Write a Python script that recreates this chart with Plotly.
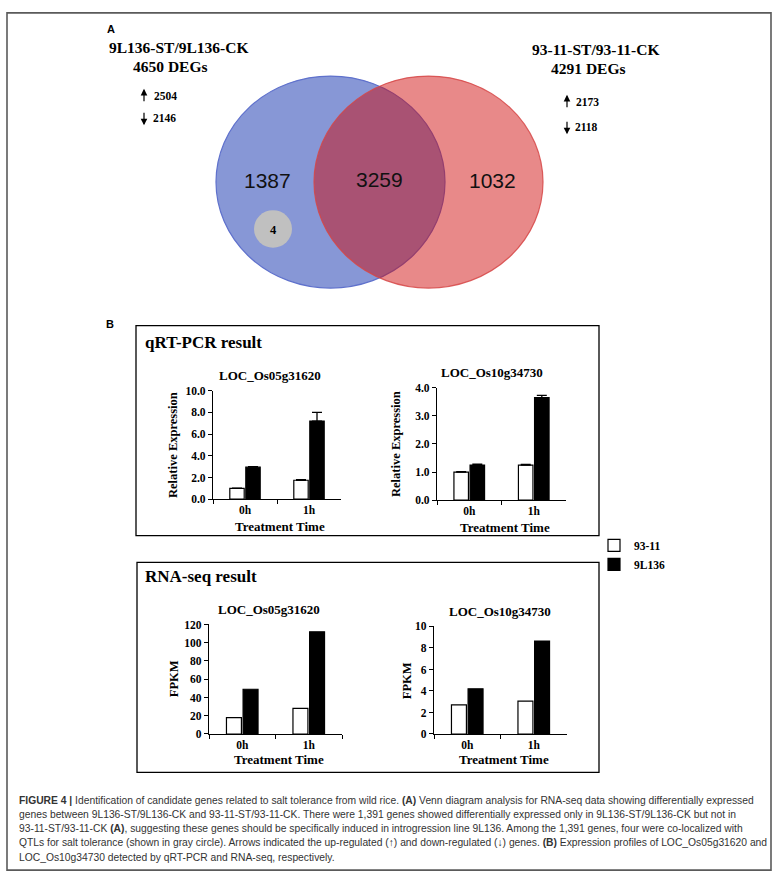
import plotly.graph_objects as go

W, H = 779, 884

# ---------------- data ----------------
venn_sets = ["9L136-ST/9L136-CK", "93-11-ST/93-11-CK"]
venn_totals = [4650, 4291]
venn_up = [2504, 2173]
venn_down = [2146, 2118]
venn_only_left = 1387
venn_both = 3259
venn_only_right = 1032
venn_qtl = 4

times = ["0h", "1h"]
lines = ["93-11", "9L136"]
genes = ["LOC_Os05g31620", "LOC_Os10g34730"]

qrt_os05_9311 = [1.0, 1.75]
qrt_os05_9l136 = [2.95, 7.2]
qrt_os05_err_9311 = [0.03, 0.05]
qrt_os05_err_9l136 = [0.05, 0.8]
qrt_os10_9311 = [1.0, 1.25]
qrt_os10_9l136 = [1.25, 3.65]
qrt_os10_err_9311 = [0.02, 0.02]
qrt_os10_err_9l136 = [0.03, 0.08]

rna_os05_9311 = [18, 28]
rna_os05_9l136 = [49, 112]
rna_os10_9311 = [2.7, 3.05]
rna_os10_9l136 = [4.2, 8.65]

caption_lines = [
    "<b>FIGURE 4 |</b> Identification of candidate genes related to salt tolerance from wild rice. <b>(A)</b> Venn diagram analysis for RNA-seq data showing differentially expressed",
    "genes between 9L136-ST/9L136-CK and 93-11-ST/93-11-CK. There were 1,391 genes showed differentially expressed only in 9L136-ST/9L136-CK but not in",
    "93-11-ST/93-11-CK <b>(A)</b>, suggesting these genes should be specifically induced in introgression line 9L136. Among the 1,391 genes, four were co-localized with",
    "QTLs for salt tolerance (shown in gray circle). Arrows indicated the up-regulated (↑) and down-regulated (↓) genes. <b>(B)</b> Expression profiles of LOC_Os05g31620 and",
    "LOC_Os10g34730 detected by qRT-PCR and RNA-seq, respectively.",
]

# ---------------- helpers ----------------
def X(px):
    return px / W

def Y(py):
    return 1 - py / H

SERIF = "Liberation Serif, Times New Roman, serif"
SANS = "Liberation Sans, Arial, sans-serif"

fig = go.Figure()
annotations = []
shapes = []

def text(x, y, s, size, family=SERIF, bold=True, xanchor="center", color="black", angle=0):
    annotations.append(dict(
        x=X(x), y=Y(y), xref="paper", yref="paper", text=s, showarrow=False,
        xanchor=xanchor, yanchor="middle", textangle=angle,
        font=dict(family=family, size=size, color=color, weight="bold" if bold else "normal"),
    ))

# ---------------- bar charts ----------------
charts = [
    ("1", 213, 341, 390, 500, 10, 2, ".1f", qrt_os05_9311, qrt_os05_9l136, qrt_os05_err_9311, qrt_os05_err_9l136, "Relative Expression", genes[0], 173, 270),
    ("2", 437, 566, 387, 501, 4, 1, ".1f", qrt_os10_9311, qrt_os10_9l136, qrt_os10_err_9311, qrt_os10_err_9l136, "Relative Expression", genes[1], 396, 492),
    ("3", 209, 342, 627, 738, 120, 20, "d", rna_os05_9311, rna_os05_9l136, None, None, "FPKM", genes[0], 174, 269),
    ("4", 434, 567, 629, 738, 10, 2, "d", rna_os10_9311, rna_os10_9l136, None, None, "FPKM", genes[1], 407, 500),
]

tickfont = dict(family=SERIF, size=11.5, color="black", weight="bold")
layout_axes = {}
for i, (aid, x0, x1, yt, yb, ymax, dt, fmt, wv, bv, ew, eb, ytitle, gene, ytx, ttx) in enumerate(charts):
    xa = "x" if aid == "1" else "x" + aid
    ya = "y" if aid == "1" else "y" + aid
    for name, vals, err, col in ((lines[0], wv, ew, "white"), (lines[1], bv, eb, "black")):
        tr = dict(
            x=times, y=vals, name=name, xaxis=xa, yaxis=ya,
            marker=dict(color=col, line=dict(color="black", width=1.2)),
            legendgroup=name, showlegend=(i == 0), hoverinfo="skip",
        )
        if err is not None:
            tr["error_y"] = dict(type="data", array=err, arrayminus=[0] * len(err), symmetric=False,
                                 color="black", thickness=1.3, width=5)
        fig.add_trace(go.Bar(**tr))
    kx = "xaxis" if aid == "1" else "xaxis" + aid
    ky = "yaxis" if aid == "1" else "yaxis" + aid
    layout_axes[kx] = dict(
        domain=[X(x0), X(x1)], anchor=ya, type="category",
        showline=True, linecolor="black", linewidth=1.3, ticks="outside", tickson="boundaries",
        ticklen=4, tickcolor="black", tickwidth=1.2, showgrid=False, zeroline=False,
        tickfont=tickfont, fixedrange=True,
    )
    layout_axes[ky] = dict(
        domain=[Y(yb), Y(yt)], anchor=xa, range=[0, ymax], dtick=dt, tick0=0, tickformat=fmt,
        showline=True, linecolor="black", linewidth=1.3, ticks="outside", ticklen=4,
        tickcolor="black", tickwidth=1.2, showgrid=False, zeroline=False,
        tickfont=tickfont, fixedrange=True,
    )
    text(ttx, yt - 15, gene, 13)
    text((x0 + x1) / 2 + 3, yb + 28 if aid in ("1", "2") else yb + 26, "Treatment Time", 13)
    text(ytx, (yt + yb) / 2, ytitle, 12.5, angle=-90)

# ---------------- panel boxes ----------------
for (l, t, r, b) in ((136, 324, 599, 537), (137, 564, 599, 777)):
    shapes.append(dict(type="rect", xref="paper", yref="paper", x0=X(l), x1=X(r), y0=Y(b), y1=Y(t),
                       line=dict(color="black", width=1.3), fillcolor="rgba(0,0,0,0)", layer="below"))
text(143, 341, "qRT-PCR result", 17, xanchor="left")
text(143, 578, "RNA-seq result", 17, xanchor="left")

# outer border
shapes.append(dict(type="rect", xref="paper", yref="paper", x0=X(7), x1=X(771), y0=Y(876), y1=Y(7),
                   line=dict(color="#5a5a5a", width=1.6), fillcolor="rgba(0,0,0,0)", layer="below"))

# ---------------- Venn ----------------
shapes.append(dict(type="circle", xref="paper", yref="paper", x0=X(216), x1=X(445), y0=Y(286), y1=Y(71),
                   fillcolor="rgb(135,151,214)", line=dict(color="rgb(95,113,204)", width=1.2), layer="above"))
shapes.append(dict(type="circle", xref="paper", yref="paper", x0=X(314), x1=X(543), y0=Y(286), y1=Y(71),
                   fillcolor="rgba(207,7,7,0.475)", line=dict(color="rgba(214,70,70,0.85)", width=1.2), layer="above"))
shapes.append(dict(type="circle", xref="paper", yref="paper", x0=X(254), x1=X(292), y0=Y(245), y1=Y(207),
                   fillcolor="rgb(192,192,192)", line=dict(width=0), layer="above"))

text(267, 177, str(venn_only_left), 21, family=SANS, bold=False, color="#111")
text(379, 176, str(venn_both), 21, family=SANS, bold=False, color="#111")
text(492, 177, str(venn_only_right), 21, family=SANS, bold=False, color="#111")
text(273, 227, str(venn_qtl), 12.5)

text(111, 23, "A", 11, family=SANS)
text(110, 322, "B", 11, family=SANS)

text(179, 42, venn_sets[0], 15.5)
text(170, 61, f"{venn_totals[0]} DEGs", 15.5)
text(595, 44, venn_sets[1], 15.5)
text(588, 63, f"{venn_totals[1]} DEGs", 15.5)

def arrow(xp, yhead, ytail):
    annotations.append(dict(x=X(xp), y=Y(yhead), xref="paper", yref="paper", text="",
                            showarrow=True, ax=0, ay=ytail - yhead, arrowhead=2, arrowsize=1.1,
                            arrowwidth=1.2, arrowcolor="black", standoff=0, startstandoff=0))

arrow(144, 84, 98)
text(152, 91, str(venn_up[0]), 11.5, xanchor="left")
arrow(144, 121, 107)
text(151, 114, str(venn_down[0]), 11.5, xanchor="left")
arrow(567, 90, 104)
text(574, 97, str(venn_up[1]), 11.5, xanchor="left")
arrow(567, 130, 116)
text(573, 123, str(venn_down[1]), 11.5, xanchor="left")

# ---------------- caption ----------------
for k, ln in enumerate(caption_lines):
    text(17, 805 + k * 14.5, ln, 10.3, family=SANS, bold=False, xanchor="left", color="#333")

fig.update_layout(
    width=W, height=H, margin=dict(l=0, r=0, t=0, b=0),
    paper_bgcolor="white", plot_bgcolor="white",
    barmode="group", bargap=0.5, bargroupgap=0.1,
    showlegend=True,
    legend=dict(x=X(594), y=Y(532), xanchor="left", yanchor="top", bgcolor="rgba(0,0,0,0)",
                font=dict(family=SERIF, size=11.5, color="black", weight="bold"),
                itemwidth=30, tracegroupgap=2, traceorder="normal"),
    annotations=annotations, shapes=shapes,
    **layout_axes,
)

fig.write_html("out.html", config={"displayModeBar": False},
               post_script="document.body.style.margin='0px';document.body.style.overflow='hidden';")
